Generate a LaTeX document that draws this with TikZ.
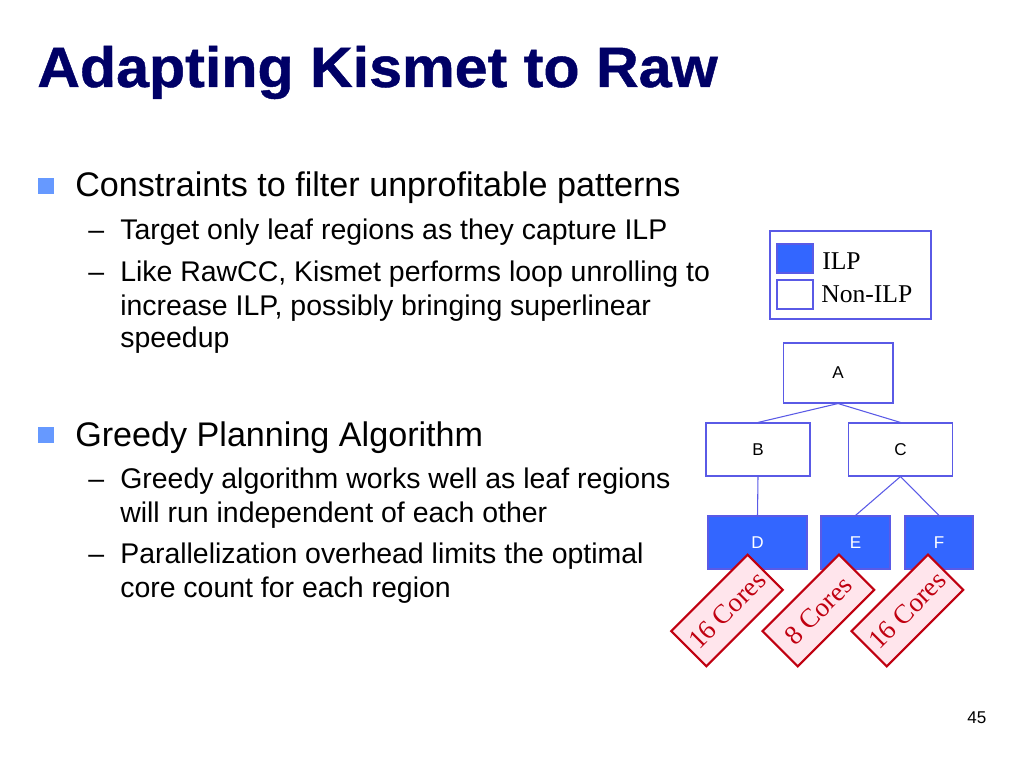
\documentclass[tikz,border=0pt]{standalone}
\usepackage{fontspec}
\setmainfont{Liberation Sans}
\newfontfamily\tagserif{Liberation Serif}
\newfontfamily\titlefont[FakeBold=0.8,FakeStretch=1.04]{Liberation Sans Bold}

\definecolor{titleblue}{RGB}{0,0,102}
\definecolor{bulletblue}{RGB}{102,153,255}
\definecolor{boxline}{RGB}{90,90,230}
\definecolor{ilpblue}{RGB}{51,102,255}
\definecolor{tagred}{RGB}{192,0,16}
\definecolor{tagfill}{RGB}{255,229,236}

\begin{document}
\begin{tikzpicture}[x=0.703125pt,y=0.703125pt,yscale=-1,xscale=1,
  titletext/.style={anchor=base west,inner sep=0,text=titleblue,font=\titlefont\fontsize{40}{48}\selectfont},
  itemtext/.style={anchor=base west,inner sep=0,font=\fontsize{24}{29}\selectfont},
  subtext/.style={anchor=base west,inner sep=0,font=\fontsize{20}{24}\selectfont},
  region/.style={draw=boxline,fill=white,line width=0.75pt,inner sep=0,font=\fontsize{12}{14}\selectfont},
  ilpregion/.style={region,fill=ilpblue,text=white},
  treeline/.style={draw=boxline,line width=0.75pt},
  keytext/.style={anchor=base west,inner sep=0,font=\tagserif\fontsize{18}{20}\selectfont},
  coretag/.style={rotate=45,draw=tagred,fill=tagfill,text=tagred,line width=1.5pt,inner sep=0,
    minimum width=76pt,minimum height=35pt,font=\tagserif\fontsize{19}{21}\selectfont}]
\useasboundingbox (0,0) rectangle (1024,768);

% title
\node[titletext] (title) at (37,87) {Adapting Kismet to Raw};

% first bullet
\fill[bulletblue] (38,178) rectangle (54,194);
\node[itemtext] (c1) at (75,197) {Constraints to filter unprofitable patterns};
\node[subtext] (c1d1) at (88,240) {--};
\node[subtext] (c1a) at (120,240) {Target only leaf regions as they capture ILP};
\node[subtext] (c1d2) at (88,281) {--};
\node[subtext] (c1b) at (120,281) {Like RawCC, Kismet performs loop unrolling to};
\node[subtext] (c1c) at (120,315) {increase ILP, possibly bringing superlinear};
\node[subtext] (c1e) at (120,348) {speedup};

% second bullet
\fill[bulletblue] (38,427) rectangle (54,443);
\node[itemtext] (g1) at (75,446) {Greedy Planning Algorithm};
\node[subtext] (g1d1) at (88,488) {--};
\node[subtext] (g1a) at (120,488) {Greedy algorithm works well as leaf regions};
\node[subtext] (g1b) at (120,522) {will run independent of each other};
\node[subtext] (g1d2) at (88,563) {--};
\node[subtext] (g1c) at (120,563) {Parallelization overhead limits the optimal};
\node[subtext] (g1e) at (120,597) {core count for each region};

% legend
\node[region,minimum width=113.2pt,minimum height=61.9pt] (legend) at (850.5,275) {};
\node[ilpregion,minimum width=25.3pt,minimum height=20.4pt] (ilpkey) at (795,258.5) {};
\node[region,minimum width=25.3pt,minimum height=20.4pt] (nonkey) at (795,294.5) {};
\node[keytext] (ilplabel) at (822,269.3) {ILP};
\node[keytext] (nonlabel) at (821,302.7) {Non-ILP};

% region tree
\node[region,minimum width=77.3pt,minimum height=42.2pt] (A) at (838,373) {A};
\node[region,minimum width=73.1pt,minimum height=37.3pt] (B) at (758,449.5) {B};
\node[region,minimum width=73.1pt,minimum height=37.3pt] (C) at (900.5,449.5) {C};
\node[ilpregion,minimum width=69.6pt,minimum height=37.3pt] (D) at (757.5,542.5) {D};
\node[ilpregion,minimum width=48.5pt,minimum height=37.3pt] (E) at (855.5,542.5) {E};
\node[ilpregion,minimum width=47.8pt,minimum height=37.3pt] (F) at (939,542.5) {F};

\draw[treeline] (A.south) -- (B.north);
\draw[treeline] (A.south) -- (C.north);
\draw[treeline] (B.south) -- (D.north);
\draw[treeline] (C.south) -- (E.north);
\draw[treeline] (C.south) -- (F.north);

% core counts
\node[coretag] (tagD) at (727,610.5) {16 Cores};
\node[coretag] (tagE) at (818.4,610.5) {8 Cores};
\node[coretag] (tagF) at (907.4,610.5) {16 Cores};

% page number
\node[anchor=base west,inner sep=0,font=\fontsize{12}{14}\selectfont] (pagenum) at (967,723) {45};

\end{tikzpicture}
\end{document}
